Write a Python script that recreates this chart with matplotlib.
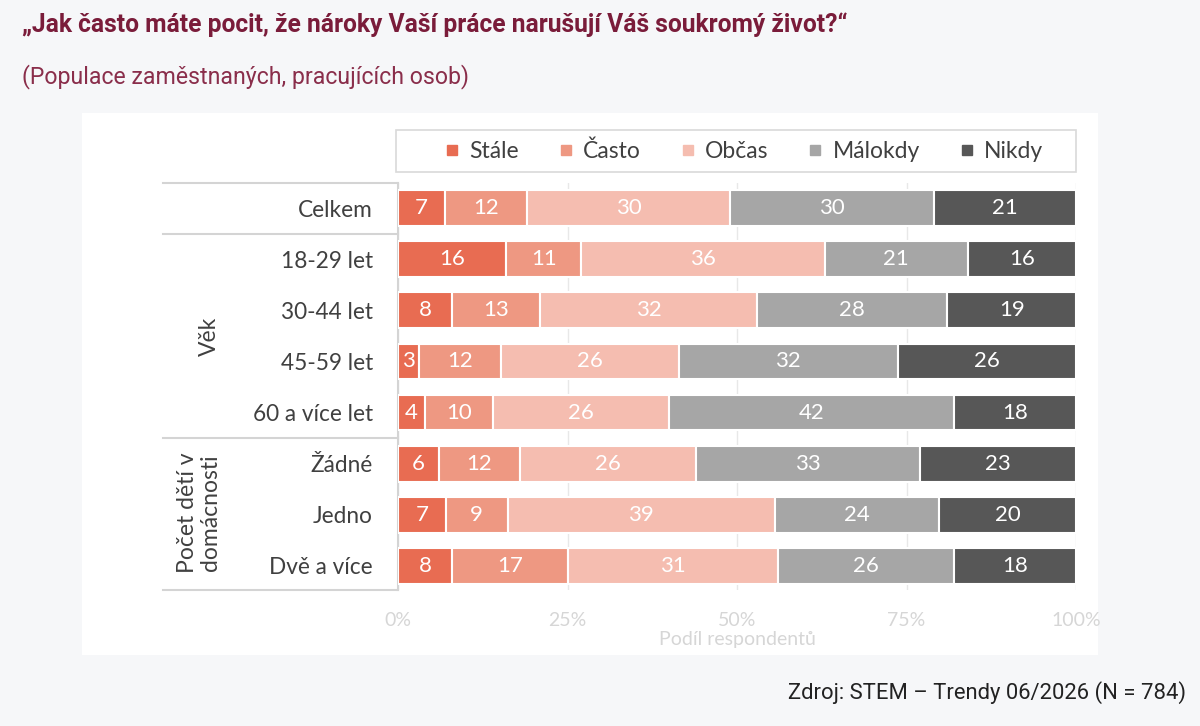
import numpy as np
import matplotlib.pyplot as plt
from matplotlib.patches import Rectangle
from matplotlib.lines import Line2D

# data (percent, rounded)
groups = ['Celkem', '18-29 let', '30-44 let', '45-59 let', '60 a více let',
          'Žádné', 'Jedno', 'Dvě a více']
answers = ['Stále', 'Často', 'Občas', 'Málokdy', 'Nikdy']
stale = [7, 16, 8, 3, 4, 6, 7, 8]
casto = [12, 11, 13, 12, 10, 12, 9, 17]
obcas = [30, 36, 32, 26, 26, 26, 39, 31]
malokdy = [30, 21, 28, 32, 42, 33, 24, 26]
nikdy = [21, 16, 19, 26, 18, 23, 20, 18]
colors = ['#e86c52', '#ee9882', '#f5bdb0', '#a6a6a6', '#575757']

W, H = 1200, 726
bg = '#f6f7f9'
grey_txt = '#404040'
font = ['Lato', 'DejaVu Sans']

plt.rcParams['font.family'] = font

fig = plt.figure(figsize=(W / 100, H / 100), dpi=100, facecolor=bg)


def fx(px):
    return px / W


def fy(py):
    return 1 - py / H


# white chart panel
fig.patches.append(Rectangle((fx(82), fy(655)), fx(1098) - fx(82), fy(113) - fy(655),
                             transform=fig.transFigure, facecolor='white',
                             edgecolor='none', zorder=-5))
# legend frame
fig.patches.append(Rectangle((fx(396), fy(172)), fx(1076) - fx(396), fy(130) - fy(172),
                             transform=fig.transFigure, facecolor='white',
                             edgecolor='#d9d9d9', lw=1.2, zorder=-4))

ax = fig.add_axes([fx(398), fy(590), fx(1076) - fx(398), fy(183) - fy(590)])
ax.set_facecolor('none')
ax.set_zorder(2)

vals = np.array([stale, casto, obcas, malokdy, nikdy], dtype=float)
shares = vals / vals.sum(axis=0) * 100
y = np.arange(len(groups))
left = np.zeros(len(groups))
for i, ans in enumerate(answers):
    ax.barh(y, shares[i], left=left, height=0.7, color=colors[i],
            edgecolor='white', linewidth=1.5, label=ans, zorder=3)
    for j in range(len(groups)):
        ax.text(left[j] + shares[i][j] / 2, y[j], str(int(vals[i][j])),
                ha='center', va='center', color='white', fontsize=16, zorder=4)
    left += shares[i]

ax.set_xlim(0, 100)
ax.set_ylim(7.47, -0.49)
ax.set_xticks([0, 25, 50, 75, 100])
ax.set_xticklabels(['0%', '25%', '50%', '75%', '100%'])
ax.tick_params(axis='x', length=0, pad=16, labelsize=14, labelcolor='#d6d6d6')
ax.set_xlabel('Podíl respondentů', fontsize=14, color='#d6d6d6', labelpad=1)
ax.set_yticks(y)
ax.set_yticklabels(groups)
ax.tick_params(axis='y', length=0, pad=18, labelsize=16.3, labelcolor=grey_txt)
ax.grid(axis='x', color='#e8e8e8', lw=1, zorder=0)
for s in ax.spines.values():
    s.set_visible(False)

# left table frame
line_c = '#d4d4d4'
x0 = (163 - 398) / (1076 - 398) * 100
for yy in [-0.49, 0.5, 4.5, 7.47]:
    ax.plot([x0, 0], [yy, yy], color=line_c, lw=1.5, clip_on=False, zorder=2)
ax.plot([0, 0], [-0.49, 7.47], color=line_c, lw=1.5, clip_on=False, zorder=2)

ax.text((209 - 398) / 678 * 100, 2.5, 'Věk', rotation=90, ha='center', va='center',
        fontsize=16.5, color=grey_txt)
ax.text((199 - 398) / 678 * 100, 5.95, 'Počet dětí v\ndomácnosti', rotation=90,
        ha='center', va='center', fontsize=16.5, color=grey_txt, linespacing=1.15)

# legend
handles = [Line2D([], [], marker='s', ls='none', markersize=6.5, color=c) for c in colors]
leg = ax.legend(handles, answers, loc='center',
                bbox_to_anchor=((744 - 398) / 678, 1 + 32 / 407),
                ncol=5, frameon=False, fontsize=16.5, handlelength=0.6,
                handletextpad=0.45, columnspacing=1.75, borderpad=0.3,
                labelcolor=grey_txt)

# titles and source
fig.text(fx(22), fy(25), '„Jak často máte pocit, že nároky Vaší práce narušují Váš soukromý život?“',
         fontsize=17.7, fontweight='bold', color='#7a1c3a', va='center', ha='left',
         family=['Roboto', 'DejaVu Sans'])
fig.text(fx(22), fy(77), '(Populace zaměstnaných, pracujících osob)',
         fontsize=16.7, color='#8a2e4b', va='center', ha='left',
         family=['Roboto', 'DejaVu Sans'])
fig.text(fx(1186), fy(693), 'Zdroj: STEM – Trendy 06/2026 (N = 784)',
         fontsize=15.8, color='#222222', va='center', ha='right',
         family=['Roboto', 'DejaVu Sans'])

fig.savefig('out.png', dpi=100, facecolor=bg)
